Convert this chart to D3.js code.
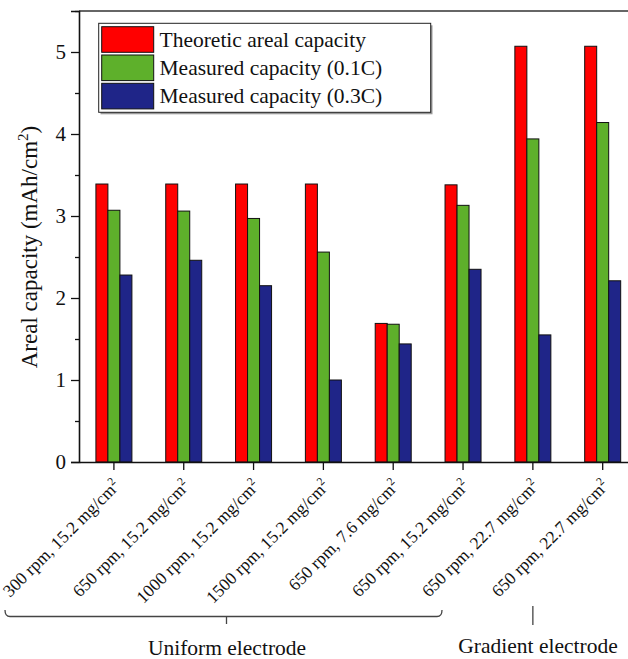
<!DOCTYPE html>
<html><head><meta charset="utf-8">
<script src="https://cdn.jsdelivr.net/npm/d3@7"></script>
<style>body{margin:0;background:#fff}svg{display:block}svg text{font-family:"Liberation Serif","Times New Roman",serif}</style>
</head><body><svg id="c" width="628" height="659"></svg>
<script>
const categories = [
  ["300 rpm, 15.2 mg/cm","2"],["650 rpm, 15.2 mg/cm","2"],["1000 rpm, 15.2 mg/cm","2"],
  ["1500 rpm, 15.2 mg/cm","2"],["650 rpm, 7.6 mg/cm","2"],["650 rpm, 15.2 mg/cm","2"],
  ["650 rpm, 22.7 mg/cm","2"],["650 rpm, 22.7 mg/cm","2"]
];
const seriesNames = ["Theoretic areal capacity","Measured capacity (0.1C)","Measured capacity (0.3C)"];
const theoretic = [3.39,3.39,3.39,3.39,1.69,3.38,5.07,5.07];
const measured01 = [3.07,3.06,2.97,2.56,1.68,3.13,3.94,4.14];
const measured03 = [2.28,2.46,2.15,1.00,1.44,2.35,1.55,2.21];
const colors = ["#ff0000","#5eb02b","#1f2588"];
const yTicks = [0,1,2,3,4,5];
const yMinor = [0.5,1.5,2.5,3.5,4.5,5.5];
const groupLabels = ["Uniform electrode","Gradient electrode"];

const series = [theoretic, measured01, measured03];
const svg = d3.select("#c");
const L = 79, T = 11, B = 462, R = 637.6;
const x = d3.scaleBand().domain(d3.range(categories.length)).range([L, R]).paddingInner(0).paddingOuter(0);
const y = d3.scaleLinear().domain([0,5.5]).range([B, T]);
const inner = d3.scaleBand().domain(d3.range(3)).range([-18, 18]);
const cx = i => x(i) + x.bandwidth()/2;

// bars
series.forEach((vals, s) => {
  svg.append("g").selectAll("rect").data(vals).join("rect")
    .attr("x", (d,i) => cx(i) + inner(s))
    .attr("y", d => y(d))
    .attr("width", inner.bandwidth())
    .attr("height", d => y(0) - y(d))
    .attr("fill", colors[s]).attr("stroke", "#111").attr("stroke-width", 1);
});

// frame top & right
svg.append("line").attr("x1", L).attr("x2", R).attr("y1", T).attr("y2", T).attr("stroke","#333").attr("stroke-width",1.5);
svg.append("line").attr("x1", R).attr("x2", R).attr("y1", T).attr("y2", B).attr("stroke","#333").attr("stroke-width",1.5);

// y axis
const ya = svg.append("g").attr("transform", `translate(${L},0)`)
  .call(d3.axisLeft(y).tickValues(yTicks).tickFormat(d3.format("d")).tickSize(8).tickPadding(5));
ya.attr("font-family", null);
ya.select(".domain").attr("stroke","#111").attr("stroke-width",1.6);
ya.selectAll(".tick line").attr("stroke","#111").attr("stroke-width",1.3);
ya.selectAll(".tick text").attr("font-size", 21).attr("fill","#111");
svg.append("g").attr("transform", `translate(${L},0)`)
  .call(d3.axisLeft(y).tickValues(yMinor).tickFormat("").tickSize(4))
  .call(g => { g.select(".domain").remove(); g.selectAll("line").attr("stroke","#111").attr("stroke-width",1.3); });

// x axis
const xa = svg.append("g").attr("transform", `translate(0,${B})`)
  .call(d3.axisBottom(x).tickFormat("").tickSize(8).tickSizeOuter(0));
xa.attr("font-family", null);
xa.select(".domain").attr("stroke","#111").attr("stroke-width",1.6);
xa.selectAll(".tick line").attr("stroke","#111").attr("stroke-width",1.3);
xa.selectAll(".tick").each(function(d){
  const t = d3.select(this).append("text")
    .attr("transform","translate(7,25) rotate(-45)")
    .attr("text-anchor","end").attr("fill","#111").attr("font-size",17.5);
  t.append("tspan").text(categories[d][0]);
  t.append("tspan").attr("dy",-7).attr("font-size",11.5).text(categories[d][1]);
});

// y label
svg.append("text").attr("transform", "translate(37,247) rotate(-90)")
  .attr("text-anchor","middle").attr("font-size",23).attr("fill","#111")
  .call(t => { t.append("tspan").text("Areal capacity (mAh/cm");
               t.append("tspan").attr("dy",-9).attr("font-size",15).text("2");
               t.append("tspan").attr("dy",9).text(")"); });

// legend
const lg = svg.append("g");
lg.append("rect").attr("x",100.5).attr("y",25.3).attr("width",332).attr("height",89).attr("fill","#999");
lg.append("rect").attr("x",98.7).attr("y",23.3).attr("width",332).attr("height",89).attr("fill","#fff").attr("stroke","#222").attr("stroke-width",1);
seriesNames.forEach((n,i) => {
  const yy = 26.7 + i*28.3;
  lg.append("rect").attr("x",101.7).attr("y",yy).attr("width",52).attr("height",25.6)
    .attr("fill",colors[i]).attr("stroke","#111").attr("stroke-width",1);
  lg.append("text").attr("x",159.5).attr("y",yy+20).attr("font-size",21.5).attr("fill","#111").text(n);
});

// group brackets
const br = svg.append("g").attr("fill","none").attr("stroke","#444").attr("stroke-width",1.3);
const uL = 5, uR = 442, uY = 616.5;
br.append("path").attr("d", `M${uL},610 Q${uL},${uY} ${uL+5},${uY} L${uR-5},${uY} Q${uR},${uY} ${uR},610 M226.5,${uY} L226.5,624`);
const gx = cx(6);
br.append("line").attr("x1",gx).attr("x2",gx).attr("y1",606).attr("y2",625);
svg.append("text").attr("x",227).attr("y",655).attr("text-anchor","middle").attr("font-size",21.5).attr("fill","#111").text(groupLabels[0]);
svg.append("text").attr("x",538).attr("y",652.5).attr("text-anchor","middle").attr("font-size",21.5).attr("fill","#111").text(groupLabels[1]);
</script></body></html>
